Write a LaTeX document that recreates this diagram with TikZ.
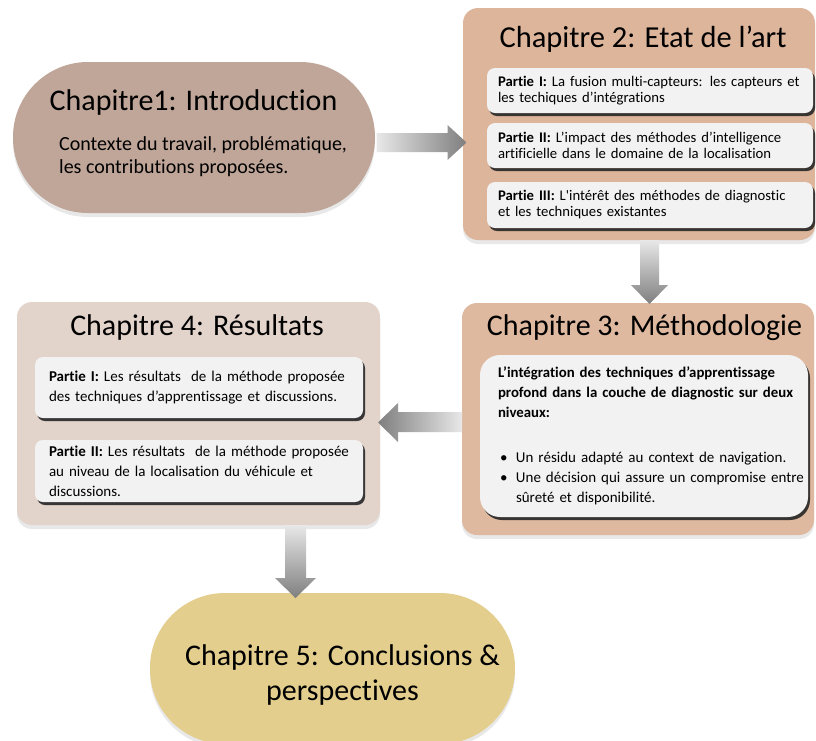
\documentclass[tikz,border=0pt]{standalone}
\usepackage{fontspec}
\setmainfont{Carlito}[Ligatures=NoCommon]
\usetikzlibrary{shadows,calc}
\definecolor{introcol}{HTML}{BFA699}
\definecolor{etatcol}{HTML}{DDB59B}
\definecolor{methcol}{HTML}{DEB89F}
\definecolor{rescol}{HTML}{E2D3CB}
\definecolor{conccol}{HTML}{E3CE8E}
\definecolor{partcol}{HTML}{F2F2F2}
\definecolor{arrlight}{HTML}{E8E8E8}
\definecolor{arrdark}{HTML}{7F7F7F}
\begin{document}
\begin{tikzpicture}[x=1pt, y=-1pt,
    chapbox/.style={inner sep=0pt, outer sep=0pt,
      drop shadow={shadow xshift=0pt, shadow yshift=-4pt, opacity=0.18}},
    partbox/.style={fill=partcol, rounded corners=8pt, inner xsep=11pt, inner ysep=0pt,
      outer sep=0pt, align=left, font=\fontsize{14.7}{16}\selectfont,
      drop shadow={shadow xshift=2pt, shadow yshift=-3pt, fill=black!85, opacity=0.9}},
    chaptitle/.style={inner sep=0pt, font=\fontsize{30}{35}\selectfont}]
  \useasboundingbox (0,0) rectangle (816,740);
  \fill[white] (0,0) rectangle (816,740);
  % Chapitre 1
  \node[chapbox, fill=introcol, rounded corners=75pt, minimum width=362pt, minimum height=151pt] (intro) at (194,137.5) {};
  \node[chaptitle, anchor=base] (introtitle) at (193.5,110) {Chapitre1: Introduction};
  \node[inner sep=0pt, anchor=base west, align=left, font=\fontsize{20}{23}\selectfont] (introtext) at (59,173)
    {Contexte du travail, problématique,\\les contributions proposées.};
  % Chapitre 2
  \node[chapbox, fill=etatcol, rounded corners=15pt, minimum width=352pt, minimum height=232pt] (etat) at (639,124) {};
  \node[chaptitle, anchor=base, font=\fontsize{30.5}{35}\selectfont] (etattitle) at (643,47) {Chapitre 2: Etat de l’art};
  \node[partbox, text width=304pt, minimum height=45pt, anchor=north west] (etatp1) at (487,68)
    {\textbf{Partie I:} La fusion multi-capteurs: les capteurs et\\les techiques d’intégrations};
  \node[partbox, text width=304pt, minimum height=45pt, anchor=north west] (etatp2) at (487,123)
    {\textbf{Partie II:} L’impact des méthodes d’intelligence\\artificielle dans le domaine de la localisation};
  \node[partbox, text width=304pt, minimum height=46pt, anchor=north west] (etatp3) at (487,182)
    {\textbf{Partie III:} L\textquotesingle intérêt des méthodes de diagnostic\\et les techniques existantes};
  % Chapitre 3
  \node[chapbox, fill=methcol, rounded corners=15pt, minimum width=352pt, minimum height=232pt] (meth) at (638,419) {};
  \node[chaptitle, anchor=base] (methtitle) at (644.5,335) {Chapitre 3: Méthodologie};
  \node[partbox, rounded corners=20pt, inner xsep=5pt, text width=318pt, minimum height=162pt,
    anchor=north west, font=\fontsize{15}{20}\selectfont] (methp) at (480,355)
    {\fontsize{14.8}{20}\selectfont\bfseries
     \mbox{\hspace*{13pt}L’intégration des techniques d’apprentissage}\\
     \mbox{\hspace*{13pt}profond dans la couche de diagnostic sur deux}\\
     \mbox{\hspace*{13pt}niveaux:}\\[25pt]
     \fontsize{15}{20}\selectfont\mdseries
     \mbox{\hspace*{15pt}\makebox[16pt][l]{\textbullet}Un résidu adapté au context de navigation.}\\
     \mbox{\hspace*{15pt}\makebox[16pt][l]{\textbullet}Une décision qui assure un compromise entre}\\
     \mbox{\hspace*{31pt}sûreté et disponibilité.}};
  % Chapitre 4
  \node[chapbox, fill=rescol, rounded corners=15pt, minimum width=363pt, minimum height=223pt] (res) at (198.5,413.5) {};
  \node[chaptitle, anchor=base] (restitle) at (197,335) {Chapitre 4: Résultats};
  \node[partbox, inner xsep=14pt, text width=300pt, minimum height=61pt, anchor=north west,
    font=\fontsize{15}{20}\selectfont] (resp1) at (35,357)
    {\textbf{Partie I:} Les résultats~ de la méthode proposée\\des techniques d’apprentissage et discussions.};
  \node[partbox, inner xsep=14pt, text width=300pt, minimum height=62pt, anchor=north west,
    font=\fontsize{15}{20}\selectfont] (resp2) at (35,440)
    {\textbf{Partie II:} Les résultats~ de la méthode proposée\\au niveau de la localisation du véhicule et\\discussions.};
  % Chapitre 5
  \node[chapbox, fill=conccol, rounded corners=75pt, minimum width=365pt, minimum height=151pt] (conc) at (332.5,668.5) {};
  \node[chaptitle, align=center] (conctitle) at (342.5,675) {Chapitre 5: Conclusions \&\\perspectives};
  % arrows
  \shade[left color=arrlight, right color=arrdark]
    ($(intro.east)+(1.5,-4.5)$) -- ++(71,0) -- ++(0,-8) -- ++(19,17.5) -- ++(-19,17.5)
    -- ++(0,-8) -- ++(-71,0) -- cycle;
  \shade[top color=arrlight, bottom color=arrdark]
    ($(etat.south)+(1,0)$) -- ++(0,45) -- ++(-9,0) -- ++(18.5,19) -- ++(18.5,-19)
    -- ++(-9,0) -- ++(0,-45) -- cycle;
  \shade[left color=arrdark, right color=arrlight]
    ($(meth.west)+(0,-7)$) -- ++(-64,0) -- ++(0,-9) -- ++(-20,19.5) -- ++(20,19.5)
    -- ++(0,-10) -- ++(64,0) -- cycle;
  \shade[top color=arrlight, bottom color=arrdark]
    ($(res.south)+(86.5,0)$) -- ++(0,53) -- ++(-10,0) -- ++(20.5,20) -- ++(20.5,-20)
    -- ++(-10,0) -- ++(0,-53) -- cycle;
\end{tikzpicture}
\end{document}
